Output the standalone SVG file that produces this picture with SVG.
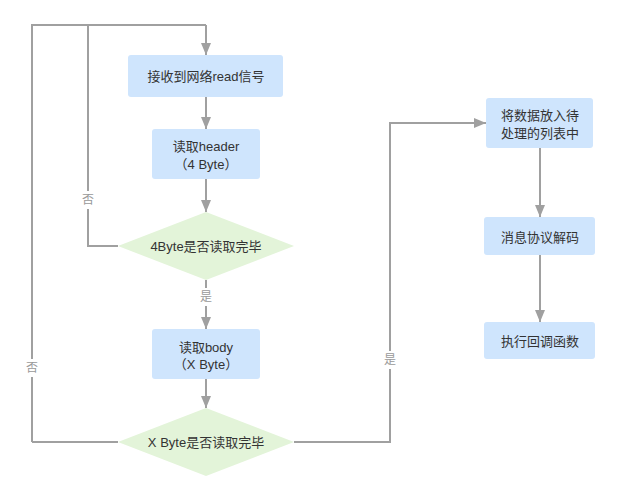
<svg xmlns="http://www.w3.org/2000/svg" width="620" height="502" viewBox="0 0 620 502">
<style>
.box{fill:#cfe5fd;}
.dia{fill:#e3f4d9;}
.t{font-family:"Liberation Sans","Noto Sans CJK SC",sans-serif;font-size:13px;fill:#333;text-anchor:middle;dominant-baseline:central;}
.lbl{font-family:"Liberation Sans","Noto Sans CJK SC",sans-serif;font-size:12px;fill:#999;text-anchor:middle;dominant-baseline:central;}
.ln{fill:none;stroke:#a0a0a0;stroke-width:2;}
</style>
<defs>
<marker id="ah" viewBox="0 0 12 10" refX="12" refY="5" markerWidth="12" markerHeight="10" markerUnits="userSpaceOnUse" orient="auto">
<path d="M0,0 L12,5 L0,10 Z" fill="#a0a0a0"/>
</marker>
</defs>
<rect width="620" height="502" fill="#fff"/>
<g id="connectors">
<path class="ln" d="M206,25 V55" marker-end="url(#ah)"/>
<path class="ln" d="M32,442 H118 M32,442 V25 H206"/>
<path class="ln" d="M118,246 H88 V25"/>
<path class="ln" d="M206,97 V129" marker-end="url(#ah)"/>
<path class="ln" d="M206,179 V212" marker-end="url(#ah)"/>
<path class="ln" d="M206,280 V329" marker-end="url(#ah)"/>
<path class="ln" d="M206,379 V408" marker-end="url(#ah)"/>
<path class="ln" d="M294,442 H390 V123 H486" marker-end="url(#ah)"/>
<path class="ln" d="M540,148 V217" marker-end="url(#ah)"/>
<path class="ln" d="M540,255 V322" marker-end="url(#ah)"/>
<rect x="80" y="191" width="16" height="18" fill="#fff"/>
<text class="lbl" x="88" y="200">否</text>
<rect x="24" y="359" width="16" height="18" fill="#fff"/>
<text class="lbl" x="32" y="368">否</text>
<rect x="198" y="288" width="16" height="18" fill="#fff"/>
<text class="lbl" x="206" y="297">是</text>
<rect x="382" y="351" width="16" height="18" fill="#fff"/>
<text class="lbl" x="390" y="360">是</text>
</g>
<g id="n1">
<rect class="box" x="128" y="55" width="155" height="42" rx="3"/>
<text class="t" x="206" y="76">接收到网络read信号</text>
</g>
<g id="n2">
<rect class="box" x="152" y="129" width="108" height="50" rx="3"/>
<text class="t" x="206" y="146">读取header</text>
<text class="t" x="206" y="164">（4 Byte）</text>
</g>
<g id="d1">
<polygon class="dia" points="206,212 294,246 206,280 118,246"/>
<text class="t" x="206" y="246">4Byte是否读取完毕</text>
</g>
<g id="n3">
<rect class="box" x="152" y="329" width="108" height="50" rx="3"/>
<text class="t" x="206" y="347">读取body</text>
<text class="t" x="206" y="364">（X Byte）</text>
</g>
<g id="d2">
<polygon class="dia" points="206,408 294,442 206,476 118,442"/>
<text class="t" x="206" y="442">X Byte是否读取完毕</text>
</g>
<g id="n4">
<rect class="box" x="486" y="98" width="107" height="50" rx="3"/>
<text class="t" x="540" y="115">将数据放入待</text>
<text class="t" x="540" y="133">处理的列表中</text>
</g>
<g id="n5">
<rect class="box" x="484" y="217" width="111" height="38" rx="3"/>
<text class="t" x="540" y="237">消息协议解码</text>
</g>
<g id="n6">
<rect class="box" x="484" y="322" width="111" height="37" rx="3"/>
<text class="t" x="540" y="341">执行回调函数</text>
</g>
</svg>
